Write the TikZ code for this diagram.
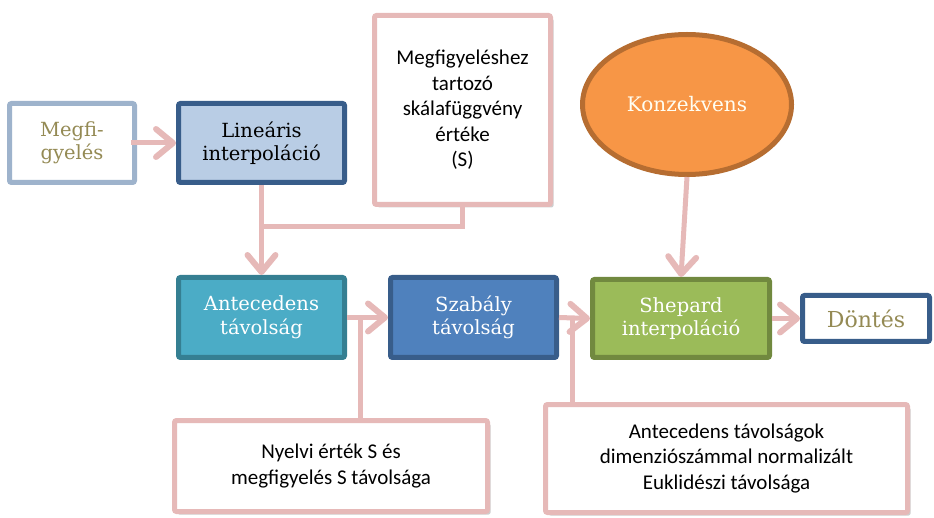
\documentclass[tikz,border=0pt]{standalone}
\usepackage{fontspec}
\setmainfont{DejaVu Serif}
\newfontfamily\calib{Carlito}
\usetikzlibrary{arrows.meta,shapes.geometric,shadows}
\definecolor{pinkc}{HTML}{E6B9B8}
\definecolor{megfb}{HTML}{9EB3CC}
\definecolor{olivet}{HTML}{948A54}
\definecolor{linf}{HTML}{B9CDE5}
\definecolor{darkb}{HTML}{385D8A}
\definecolor{antef}{HTML}{4BACC6}
\definecolor{anteb}{HTML}{357F92}
\definecolor{szabf}{HTML}{4F81BD}
\definecolor{shepf}{HTML}{9BBB59}
\definecolor{shepb}{HTML}{71893F}
\definecolor{konzf}{HTML}{F79646}
\definecolor{konzb}{HTML}{B66D31}
\tikzset{
  box/.style={draw, line width=5pt, rounded corners=2pt, inner sep=0pt, align=center,
    font=\fontsize{19.5}{23.5}\selectfont},
  notebox/.style={box, draw=pinkc, fill=white, font=\calib\fontsize{21}{25.5}\selectfont,
    drop shadow={shadow xshift=3pt,shadow yshift=-3pt,opacity=0.35,fill=black!55}},
  conn/.style={draw=pinkc, line width=5pt},
  arr/.style={conn, -{Straight Barb[length=17pt,width=28pt,line width=6pt,round]}},
}
\begin{document}
\begin{tikzpicture}[x=1pt,y=-1pt]
\useasboundingbox (0,0) rectangle (934,518);
\node[box, draw=megfb, fill=white, text=olivet, minimum width=125pt, minimum height=79pt] (megf) at (72,143) {Megfi-\\gyelés};
\node[box, draw=darkb, fill=linf, minimum width=166pt, minimum height=79pt] (lin) at (261.5,143) {Lineáris\\interpoláció};
\node[notebox, minimum width=176pt, minimum height=189pt] (rule) at (462.5,110) {Megfigyeléshez\\tartozó\\skálafüggvény\\értéke\\(S)};
\node[ellipse, draw=konzb, fill=konzf, line width=5pt, inner sep=0pt, minimum width=209pt, minimum height=140pt, text=white!95!yellow, font=\fontsize{20}{24}\selectfont] (konz) at (687,104.5) {Konzekvens};
\node[box, draw=anteb, fill=antef, text=white, minimum width=166pt, minimum height=80pt] (ante) at (261.5,317.5) {Antecedens\\távolság};
\node[box, draw=darkb, fill=szabf, text=white, minimum width=166pt, minimum height=80pt] (szab) at (473.5,317.5) {Szabály\\távolság};
\node[box, draw=shepb, fill=shepf, text=white, minimum width=177pt, minimum height=78pt] (shep) at (681,318.5) {Shepard\\interpoláció};
\node[box, draw=darkb, fill=white, text=olivet, minimum width=127pt, minimum height=46pt, font=\fontsize{22}{26}\selectfont] (dont) at (866,318.5) {Döntés};
\node[notebox, minimum width=313pt, minimum height=91pt] (nyelv) at (331,466) {Nyelvi érték S és\\megfigyelés S távolsága};
\node[notebox, minimum width=362pt, minimum height=108pt] (euk) at (726.5,458.5) {Antecedens távolságok\\dimenziószámmal normalizált\\Euklidészi távolsága};
\coordinate (j1) at (261.5,227);
\coordinate (j2) at (360,317.5);
\coordinate (j3) at (572,318);
\draw[arr] ([xshift=-6pt]megf.east) -- (lin.west);
\draw[arr] (lin.south) -- (ante.north);
\draw[conn] (rule.south) |- (j1);
\draw[arr] (konz.south) -- (shep.north);
\draw[arr] (ante.east) -- (szab.west);
\draw[conn] (j2) -- (j2 |- nyelv.north);
\draw[arr] (szab.east) -- (shep.west);
\draw[conn] (j3) -- (j3 |- euk.north);
\draw[arr] (shep.east) -- (dont.west);
\end{tikzpicture}
\end{document}
